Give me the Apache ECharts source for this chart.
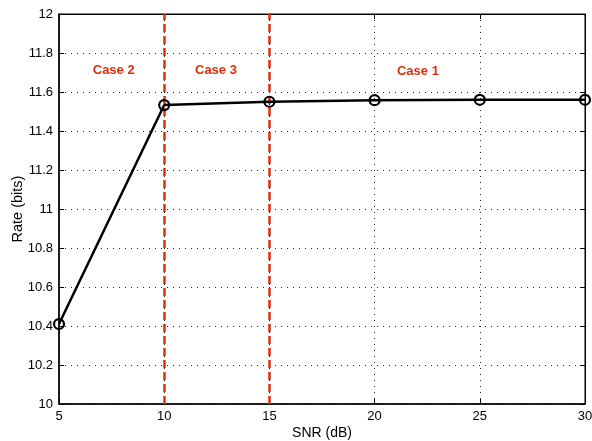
<!DOCTYPE html>
<html><head><meta charset="utf-8">
<script src="https://cdn.jsdelivr.net/npm/echarts@6/dist/echarts.min.js"></script>
<style>html,body{margin:0;padding:0;background:#fff}#c{width:592px;height:441px}</style>
</head><body><div id="c"></div>
<script>
const snr = [5, 10, 15, 20, 25, 30];
const rate = [10.41, 11.533, 11.55, 11.558, 11.56, 11.56];
const caseBoundaries = [10, 15];
const caseLabels = ['Case 2', 'Case 3', 'Case 1'];
const caseLabelX = [7.6, 12.46, 22.06];
const caseLabelY = [11.71, 11.71, 11.705];

const FONT = 'Liberation Sans, Arial, sans-serif';
const red = '#d8300c';
const chart = echarts.init(document.getElementById('c'));
const fmt = v => String(parseFloat(v.toFixed(1)));
const splitDotted = {show: true, lineStyle: {color: '#222', type: [1, 5], width: 1}};
chart.setOption({
  animation: false,
  grid: {left: 59, right: 7, top: 14, bottom: 37, show: true, borderColor: '#000', borderWidth: 1,
         containLabel: false, outerBoundsMode: 'none'},
  xAxis: [{
    type: 'value', min: 5, max: 30, interval: 5,
    name: 'SNR (dB)', nameLocation: 'middle', nameGap: 22, nameMoveOverlap: false,
    nameTextStyle: {fontFamily: FONT, fontSize: 14, color: '#000'},
    axisLine: {show: true, lineStyle: {color: '#000', width: 1.5}},
    axisTick: {show: true, inside: true, length: 5, lineStyle: {color: '#000'}},
    axisLabel: {fontFamily: FONT, fontSize: 13, color: '#000', margin: 6},
    splitLine: splitDotted
  }, {
    type: 'value', min: 5, max: 30, interval: 5, position: 'top',
    axisLine: {show: true, lineStyle: {color: '#000', width: 1}},
    axisTick: {show: true, inside: true, length: 5, lineStyle: {color: '#000'}},
    axisLabel: {show: false}, splitLine: {show: false}
  }],
  yAxis: [{
    type: 'value', min: 10, max: 12, interval: 0.2,
    name: 'Rate (bits)', nameLocation: 'middle', nameGap: 34, nameRotate: 90, nameMoveOverlap: false,
    nameTextStyle: {fontFamily: FONT, fontSize: 14.5, color: '#000'},
    axisLine: {show: true, lineStyle: {color: '#000', width: 1.5}},
    axisTick: {show: true, inside: true, length: 5, lineStyle: {color: '#000'}},
    axisLabel: {fontFamily: FONT, fontSize: 13, color: '#000', margin: 6, formatter: fmt},
    splitLine: splitDotted
  }, {
    type: 'value', min: 10, max: 12, interval: 0.2, position: 'right',
    axisLine: {show: true, lineStyle: {color: '#000', width: 1}},
    axisTick: {show: true, inside: true, length: 5, lineStyle: {color: '#000'}},
    axisLabel: {show: false}, splitLine: {show: false}
  }],
  series: [{
    type: 'line',
    data: snr.map((x, i) => [x, rate[i]]),
    lineStyle: {color: '#000', width: 2.5},
    symbol: 'circle', symbolSize: 10, showSymbol: true,
    itemStyle: {color: 'rgba(255,255,255,0)', borderColor: '#000', borderWidth: 2.2},
    z: 5,
    markLine: {
      silent: true, symbol: 'none', label: {show: false},
      lineStyle: {color: red, type: [8, 4], width: 2.5, opacity: 1},
      data: caseBoundaries.map(b => ({xAxis: b}))
    }
  }, {
    type: 'scatter', symbolSize: 0,
    data: caseLabels.map((t, i) => ({value: [caseLabelX[i], caseLabelY[i]], name: t})),
    label: {show: true, position: 'inside', formatter: p => p.name,
      fontFamily: FONT, fontSize: 13, fontWeight: 'bold', color: red, opacity: 1},
    itemStyle: {opacity: 1},
    silent: true, z: 6
  }]
});
</script></body></html>
